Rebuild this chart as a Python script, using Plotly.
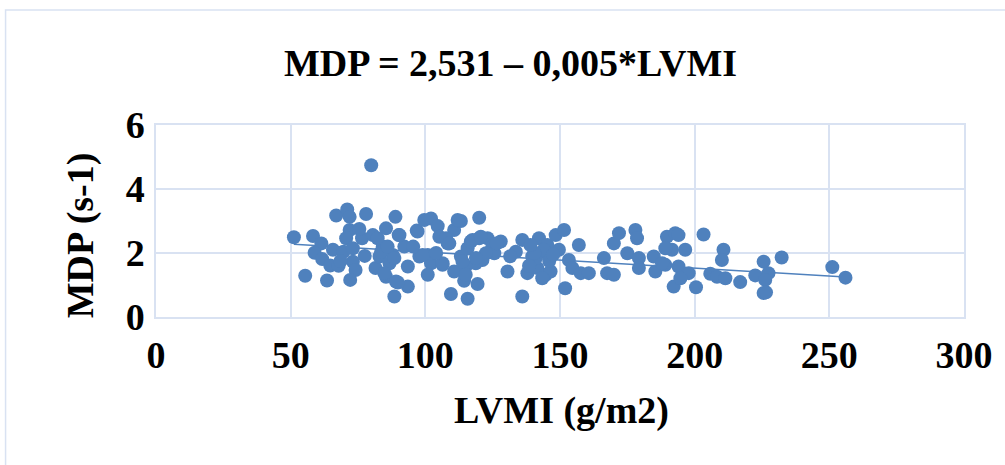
import plotly.graph_objects as go

# LVMI (g/m2) values
lvmi = [79.9, 51.2, 55.4, 58.3, 61.4, 58.9, 61.7, 64.7, 67.8, 63.5, 65.7, 66.9, 71.0, 71.9, 71.9,
        70.6, 69.6, 73.1, 73.1, 74.1, 72.1, 76.5, 78.0, 77.5, 80.5, 81.5, 83.0, 85.4, 85.4, 84.2,
        88.9, 90.1, 92.2, 93.5, 93.5, 89.8, 88.5, 86.7, 87.9, 83.6, 97.1, 97.8, 82.3, 86.0, 88.5,
        84.8, 89.1, 90.4,
        96.8, 99.6, 102.1, 104.6, 100.9, 102.1, 100.9, 106.4, 105.2, 108.3, 110.7, 113.2, 120.0,
        109.5, 115.7, 119.4, 114.4, 110.7, 113.2, 115.7, 116.9, 120.0, 123.1, 124.9, 128.0, 121.2,
        118.7, 115.0, 125.6, 130.5, 133.6, 136.0, 136.0, 137.9, 139.7, 142.2, 141.6, 144.7, 146.5,
        143.4, 145.3, 148.4, 151.5, 149.6, 151.9, 153.3, 154.6, 157.0, 157.7, 160.7, 166.3, 167.5,
        170.0, 170.0, 171.9, 175.0, 178.0, 178.6, 179.3, 179.3, 184.8, 185.4, 189.1, 189.7, 192.8,
        192.2, 191.6,
        194.0, 189.1, 196.5, 187.9, 194.0, 197.8, 194.7, 200.5, 203.3, 210.7, 210.1, 205.8, 208.3,
        211.4, 216.9, 222.5, 225.6, 227.4, 226.2, 225.6, 226.5, 232.3, 251.1, 256.0,
        112.0, 107.7, 108.9, 99.0, 106.4, 117.5, 120.6, 122.5, 118.8, 113.8, 115.0, 141.0, 144.0,
        143.4, 138.5, 140.5, 146.0, 147.5, 139.0, 126.5, 131.5, 104.0, 95.5, 75.5, 68.5]

# MDP (s-1) values
mdp = [4.74, 2.49, 1.29, 2.53, 2.30, 2.01, 1.81, 1.61, 1.60, 1.14, 2.10, 3.17, 3.36, 3.13, 2.72,
       2.46, 2.04, 2.15, 1.73, 1.47, 1.16, 2.46, 3.22, 1.91, 2.56, 1.53, 1.89, 2.77, 1.26, 2.20,
       3.13, 2.56, 2.20, 1.58, 0.95, 1.08, 0.64, 1.68, 1.94, 2.04, 2.67, 1.89, 2.46, 2.20, 1.84,
       1.37, 1.11, 2.56,
       2.70, 3.03, 3.08, 2.84, 1.94, 1.68, 1.32, 1.63, 2.51, 2.30, 2.72, 3.00, 3.10,
       0.72, 0.57, 1.03, 1.13, 1.42, 1.89, 2.15, 2.36, 2.46, 2.46, 2.20, 2.36, 1.78,
       1.68, 1.58, 1.99, 1.42, 2.04, 2.41, 0.64, 1.37, 1.89, 2.46, 1.53, 1.32, 1.42,
       2.04, 2.25, 2.56, 2.72, 2.10, 0.90, 1.78, 1.53, 2.25, 1.37, 1.37, 1.84, 1.37,
       1.32, 2.30, 2.62, 1.99, 2.72, 2.46, 1.84, 1.53, 1.89, 1.42, 1.63, 2.51, 2.62,
       0.95, 2.10,
       2.56, 2.15, 2.10, 1.68, 1.58, 1.37, 1.21, 0.93, 2.58, 2.10, 1.78, 1.35, 1.26,
       1.21, 1.09, 1.30, 1.73, 1.37, 1.16, 0.75, 0.77, 1.86, 1.56, 1.23,
       3.03, 2.46, 2.30, 1.94, 1.68, 2.41, 2.51, 1.99, 1.84, 1.73, 1.32, 1.84, 2.10,
       1.21, 1.60, 2.00, 1.75, 1.95, 2.25, 2.30, 1.90, 2.00, 2.20, 2.75, 1.75]

intercept = 2.531
slope = -0.005
title_text = "MDP = 2,531 – 0,005*LVMI"
x_title = "LVMI (g/m2)"
y_title = "MDP (s-1)"
x_ticks = [0, 50, 100, 150, 200, 250, 300]
y_ticks = [0, 2, 4, 6]

serif = "Liberation Serif, Times New Roman, serif"
grid = "#D9E2F2"
dot = "#4F81BD"
FS = 38

x_line = [min(lvmi), max(lvmi)]
y_line = [intercept + slope * v for v in x_line]

fig = go.Figure()
fig.add_trace(go.Scatter(x=x_line, y=y_line, mode="lines",
                         line=dict(color=dot, width=1.5), hoverinfo="skip", showlegend=False))
fig.add_trace(go.Scatter(x=lvmi, y=mdp, mode="markers",
                         marker=dict(color=dot, size=14, line=dict(width=0)), showlegend=False))

L, R, T, B = 156, 38, 125, 148
W, H = 1005, 465
pw, ph = W - L - R, H - T - B

def px2x(p):
    return (p - L) / pw

def py2y(p):
    return (H - B - p) / ph

fig.add_shape(type="rect", xref="paper", yref="paper",
              x0=px2x(5), x1=px2x(1012), y0=py2y(10), y1=py2y(472),
              line=dict(color=grid, width=1.5), fillcolor="rgba(0,0,0,0)", layer="below")

bold = dict(family=serif, size=FS, color="black", weight="bold")

fig.add_annotation(text=title_text, xref="paper", yref="paper",
                   x=px2x(512), y=py2y(63), xanchor="center", yanchor="middle",
                   showarrow=False, font=bold)
fig.add_annotation(text=x_title, xref="paper", yref="paper",
                   x=px2x(563), y=py2y(410), xanchor="center", yanchor="middle",
                   showarrow=False, font=bold)
fig.add_annotation(text=y_title, xref="paper", yref="paper",
                   x=px2x(80), y=py2y(235), xanchor="center", yanchor="middle",
                   textangle=-90, showarrow=False, font=bold)

fig.update_layout(
    width=W, height=H,
    margin=dict(l=L, r=R, t=T, b=B),
    paper_bgcolor="white", plot_bgcolor="white",
    xaxis=dict(range=[0, 300], tickvals=x_ticks, ticktext=[str(v) for v in x_ticks],
               showgrid=True, gridcolor=grid, gridwidth=1.5,
               showline=True, linecolor=grid, linewidth=1.5, mirror=True,
               zeroline=False, ticks="", ticklabelstandoff=4,
               tickfont=bold),
    yaxis=dict(range=[0, 6], tickvals=y_ticks, ticktext=[str(v) for v in y_ticks],
               showgrid=True, gridcolor=grid, gridwidth=1.5,
               showline=True, linecolor=grid, linewidth=1.5, mirror=True,
               zeroline=False, ticks="", ticklabelstandoff=2,
               tickfont=bold),
)

fig.write_html("out.html")
